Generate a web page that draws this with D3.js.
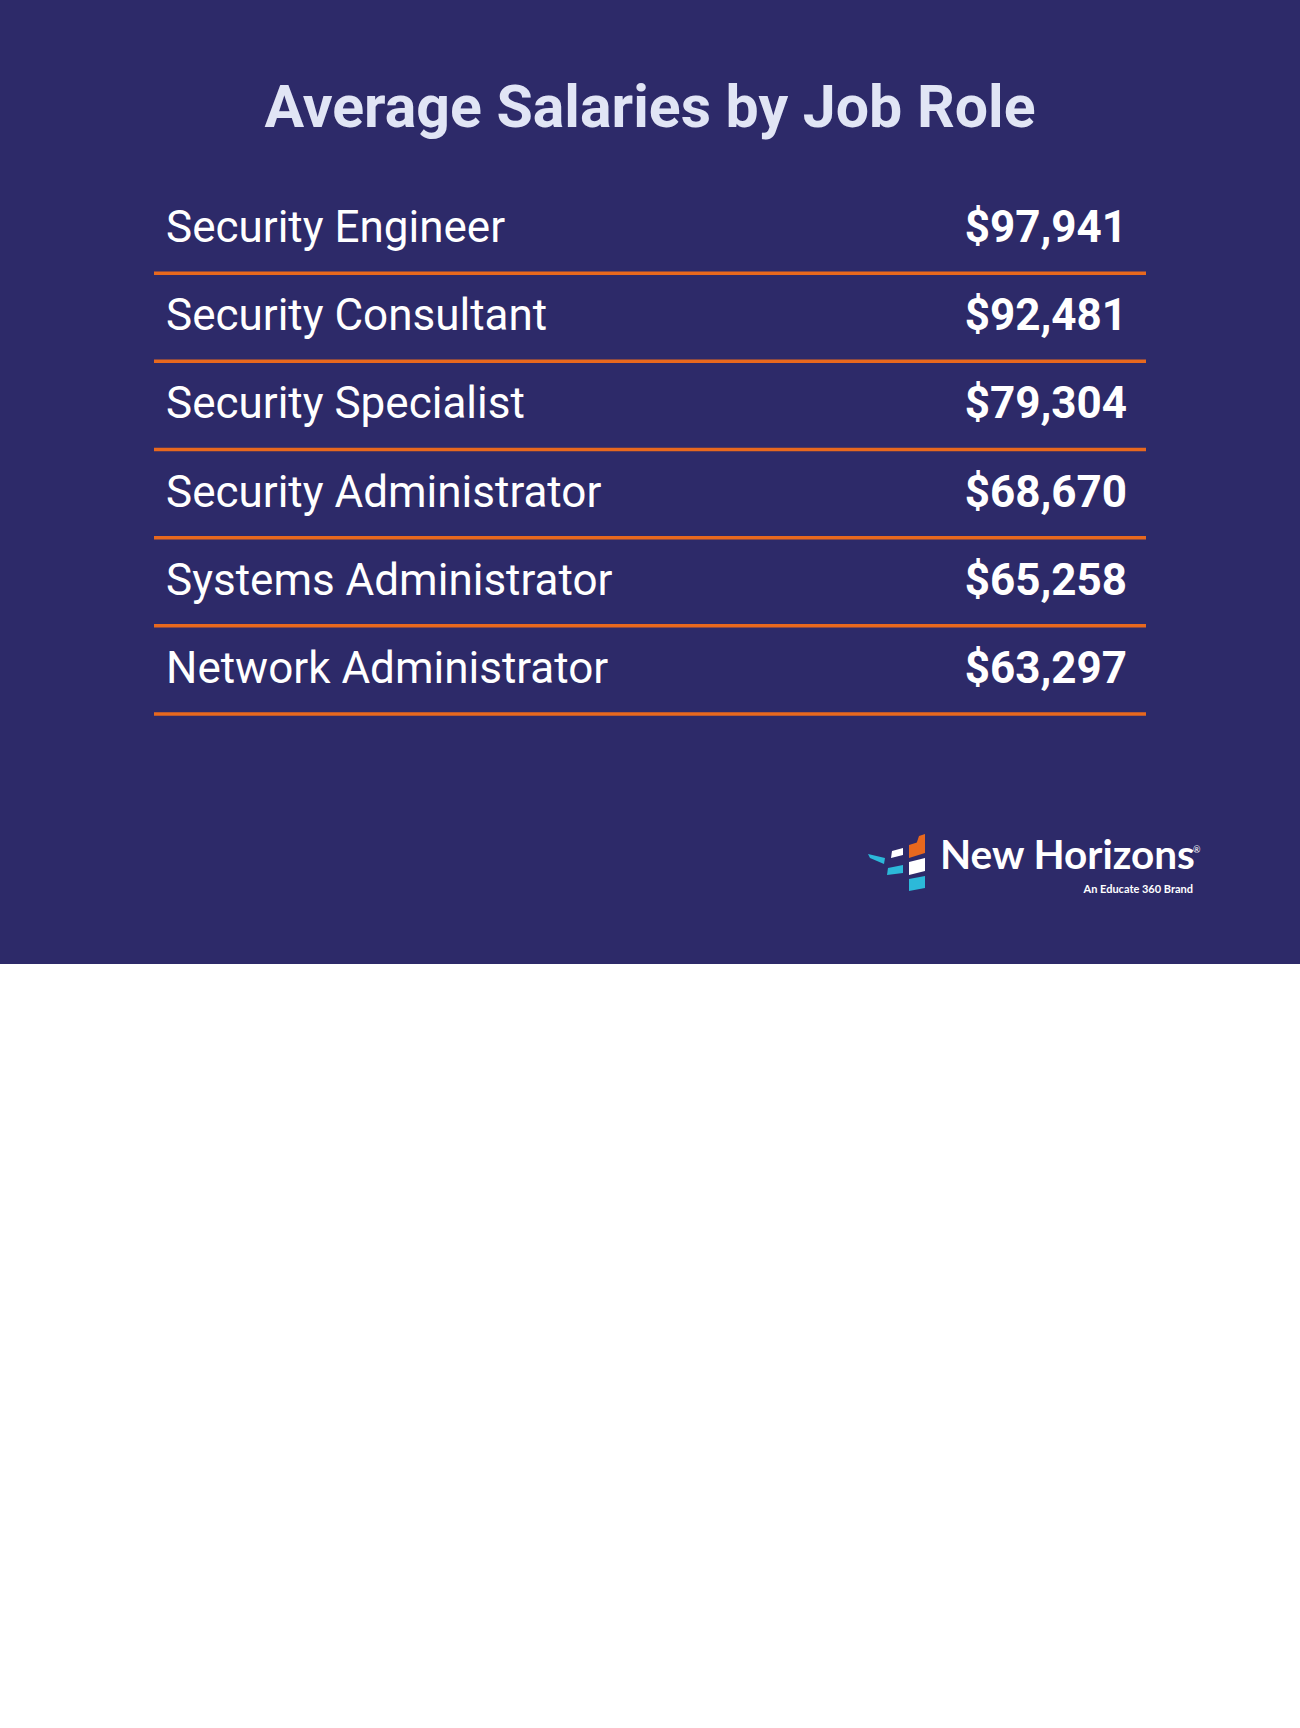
<!DOCTYPE html><html><head><meta charset="utf-8"><script src="https://cdn.jsdelivr.net/npm/d3@7"></script>
<style>body{margin:0;background:#fff}</style></head><body><svg id="c" width="1300" height="1728"></svg>
<script>
const roles=["Security Engineer","Security Consultant","Security Specialist","Security Administrator","Systems Administrator","Network Administrator"];
const salaries=[97941,92481,79304,68670,65258,63297];
const title="Average Salaries by Job Role";
const svg=d3.select("#c");
svg.append("rect").attr("width",1300).attr("height",964).attr("fill","#2d2a69");
svg.append("text").attr("x",650).attr("y",127).attr("text-anchor","middle").attr("font-family","Roboto").attr("font-weight",700).attr("font-size",59).attr("fill","#e1e5f5").text(title);
const y=d3.scaleBand().domain(roles).range([185,714]).paddingInner(0);
const fmt=d3.format("$,");
const g=svg.append("g").selectAll("g").data(roles).join("g");
g.append("text").attr("x",166).attr("y",d=>y(d)+y.bandwidth()/2+13).attr("font-family","Roboto").attr("font-size",44).attr("fill","#fff").text(d=>d);
g.append("text").attr("x",1127).attr("y",d=>y(d)+y.bandwidth()/2+13).attr("text-anchor","end").attr("font-family","Roboto").attr("font-weight",700).attr("font-size",44).attr("fill","#fff").text((d,i)=>fmt(salaries[i]));
g.append("line").attr("x1",154).attr("x2",1146).attr("y1",d=>y(d)+y.bandwidth()).attr("y2",d=>y(d)+y.bandwidth()).attr("stroke","#e8681e").attr("stroke-width",3.5);
const L=svg.append("g");
L.append("path").attr("d","M868,854 L885,858 L884,864 L870,858Z").attr("fill","#2cb9d9");
L.append("path").attr("d","M892,851 L903,848 L903,855 L891,858Z").attr("fill","#fff");
L.append("path").attr("d","M888,868 L903,865 L903,873 L887,875Z").attr("fill","#2cb9d9");
L.append("path").attr("d","M909,845 L925,840 L925,853 L909,858Z").attr("fill","#e8681e");
L.append("path").attr("d","M919,836 L925,834 L925,842 L916,845Z").attr("fill","#e8681e");
L.append("path").attr("d","M909,862 L925,858 L925,871 L909,875Z").attr("fill","#fff");
L.append("path").attr("d","M909,879 L925,876 L925,888 L909,891Z").attr("fill","#2cb9d9");
L.append("text").attr("x",940).attr("y",869).attr("font-family","Lato").attr("font-weight",700).attr("font-size",40.5).attr("fill","#fff").text("New Horizons");
L.append("text").attr("x",1193).attr("y",853).attr("font-family","Lato").attr("font-size",9).attr("fill","#fff").text("®");
L.append("text").attr("x",1193).attr("y",893).attr("text-anchor","end").attr("font-family","Lato").attr("font-weight",700).attr("font-size",11).attr("fill","#fff").text("An Educate 360 Brand");
</script></body></html>
